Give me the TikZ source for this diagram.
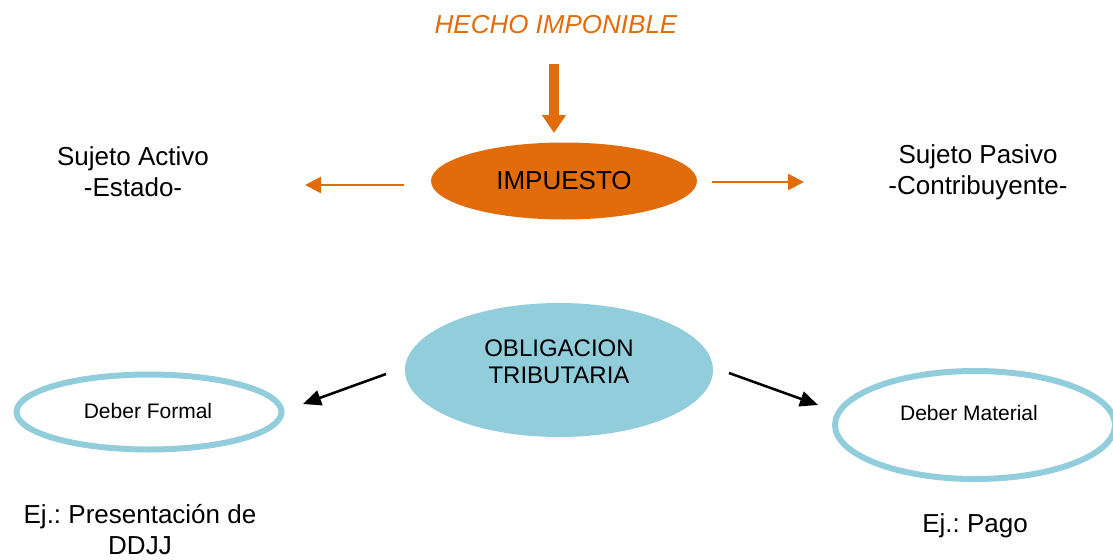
\documentclass[tikz,border=0pt]{standalone}
\usepackage{fontspec}
\setmainfont{Liberation Sans}
\usepackage{xcolor}
\usetikzlibrary{arrows.meta,shapes.geometric}
\definecolor{naranja}{HTML}{E36C0A}
\definecolor{celeste}{HTML}{92CDDC}
\frenchspacing

\begin{document}
\begin{tikzpicture}[x=0.75pt,y=-0.75pt,
  txt/.style={font=\fontsize{19.5}{23.25}\selectfont,align=center,inner sep=0pt},
  chico/.style={font=\fontsize{15.75}{19}\selectfont,inner sep=0pt},
  oval/.style={ellipse,draw=celeste,line width=4.5pt,inner sep=0pt},
  flecha/.style={draw=naranja,line width=2pt,-{Triangle[length=12pt,width=12pt]}},
  negra/.style={line width=1.9pt,-{Triangle[length=13.5pt,width=11.5pt]}}]
\useasboundingbox (0,0) rectangle (1113,560);

\node[txt,text=naranja,font=\fontsize{19.5}{23.25}\selectfont\itshape,anchor=base]
		(hecho) at (556,34)		{HECHO IMPONIBLE};
  \node[ellipse,fill=naranja,minimum width=199.5pt,minimum height=57.75pt,txt]
		(imp) at (564,181)		{IMPUESTO};
  \node[txt]	(activo) at (133,172)	{Sujeto Activo\\-Estado-};
  \node[txt]	(pasivo) at (978,172)	{Sujeto Pasivo\\-Contribuyente-};

  \node[ellipse,fill=celeste,minimum width=231pt,minimum height=100.5pt]
		(obl) at (559,370)		{};
  \node[txt,font=\fontsize{18}{20.25}\selectfont]
		(oblt) at (559,362)		{OBLIGACION\\TRIBUTARIA};
  \node[oval,minimum width=198.75pt,minimum height=56.25pt]
		(formal) at (149,412)	{};
  \node[chico,anchor=base] (formalt) at (148,418)	{Deber Formal};
  \node[oval,minimum width=210pt,minimum height=81pt]
		(material) at (975,425)	{};
  \node[chico,anchor=base] (materialt) at (969,420)	{Deber Material};

  \node[txt]	(ej1) at (140,530)	{Ej.: Presentación de\\DDJJ};
  \node[txt,anchor=base] (ej2) at (975,532)	{Ej.: Pago};

  % puntas libres de las flechas
  \coordinate (dA) at (554,64);		\coordinate (dB) at (554,133);
  \coordinate (iA) at (404,185);	\coordinate (iB) at (305,185);
  \coordinate (rA) at (712,182);	\coordinate (rB) at (804,182);
  \coordinate (nA) at (386,374);	\coordinate (nB) at (303,404);
  \coordinate (mA) at (729,373);	\coordinate (mB) at (818,405);

  \draw[naranja,line width=7.5pt,-{Triangle[length=13.5pt,width=17.25pt]}] (dA) -- (dB);
  \draw[flecha] (iA) -- (iB);
  \draw[flecha] (rA) -- (rB);
  \draw[negra] (nA) -- (nB);
  \draw[negra] (mA) -- (mB);

\end{tikzpicture}
\end{document}
